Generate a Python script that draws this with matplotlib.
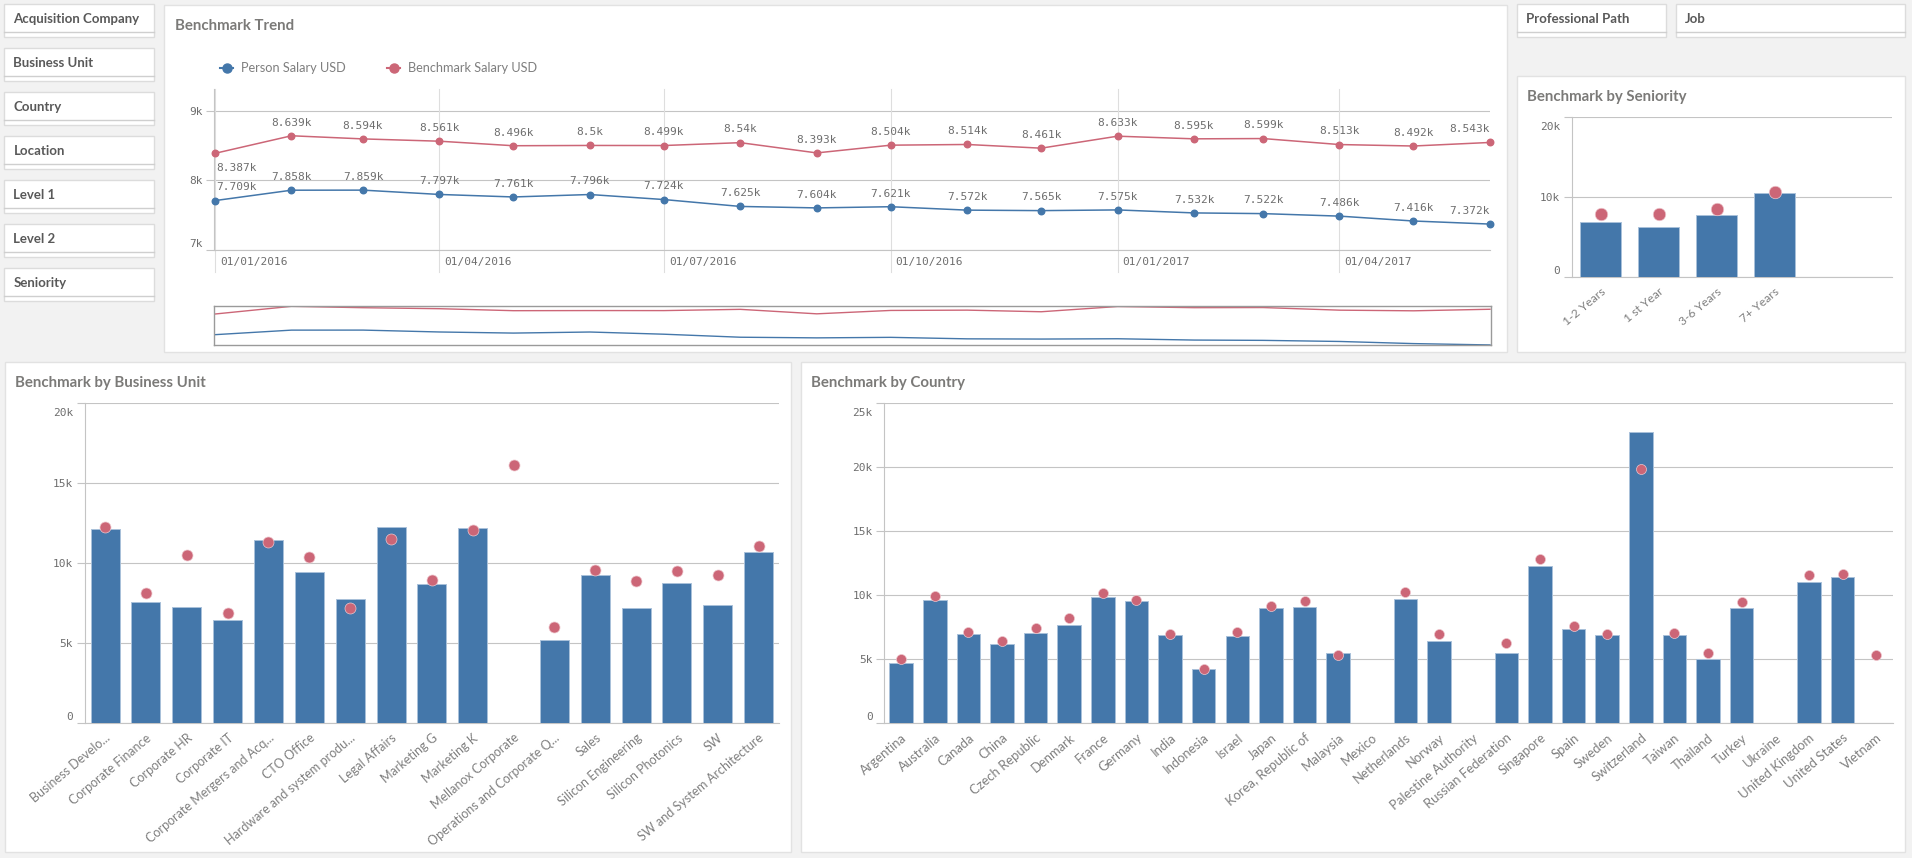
import matplotlib
matplotlib.use('Agg')
import matplotlib.pyplot as plt
from matplotlib.patches import Rectangle
from matplotlib.transforms import ScaledTranslation
import numpy as np
import pandas as pd

W, H = 1912, 858

months = ['2016-01-01', '2016-02-01', '2016-03-01', '2016-04-01', '2016-05-01', '2016-06-01',
          '2016-07-01', '2016-08-01', '2016-09-01', '2016-10-01', '2016-11-01', '2016-12-01',
          '2017-01-01', '2017-02-01', '2017-03-01', '2017-04-01', '2017-05-01', '2017-06-01']
person_trend = [7.709, 7.858, 7.859, 7.797, 7.761, 7.796, 7.724, 7.625, 7.604,
                7.621, 7.572, 7.565, 7.575, 7.532, 7.522, 7.486, 7.416, 7.372]
bench_trend = [8.387, 8.639, 8.594, 8.561, 8.496, 8.5, 8.499, 8.54, 8.393,
               8.504, 8.514, 8.461, 8.633, 8.595, 8.599, 8.513, 8.492, 8.543]
trend_labels_person = ['7.709k', '7.858k', '7.859k', '7.797k', '7.761k', '7.796k', '7.724k', '7.625k', '7.604k',
                       '7.621k', '7.572k', '7.565k', '7.575k', '7.532k', '7.522k', '7.486k', '7.416k', '7.372k']
trend_labels_bench = ['8.387k', '8.639k', '8.594k', '8.561k', '8.496k', '8.5k', '8.499k', '8.54k', '8.393k',
                      '8.504k', '8.514k', '8.461k', '8.633k', '8.595k', '8.599k', '8.513k', '8.492k', '8.543k']
date_ticks = ['2016-01-01', '2016-04-01', '2016-07-01', '2016-10-01', '2017-01-01', '2017-04-01']
date_tick_labels = ['01/01/2016', '01/04/2016', '01/07/2016', '01/10/2016', '01/01/2017', '01/04/2017']

seniority = ['1-2 Years', '1 st Year', '3-6 Years', '7+ Years']
seniority_person = [6900, 6290, 7750, 10580]
seniority_bench = [7910, 7910, 8540, 10660]

units = ['Business Develo...', 'Corporate Finance', 'Corporate HR', 'Corporate IT',
         'Corporate Mergers and Acq...', 'CTO Office', 'Hardware and system produ...',
         'Legal Affairs', 'Marketing G', 'Marketing K', 'Mellanox Corporate',
         'Operations and Corporate Q...', 'Sales', 'Silicon Engineering',
         'Silicon Photonics', 'SW', 'SW and System Architecture']
unit_person = [12125, 7560, 7290, 6440, 11440, 9440, 7790, 12250, 8690, 12190, np.nan,
               5190, 9290, 7190, 8770, 7420, 10690]
unit_bench = [12270, 8150, 10520, 6900, 11330, 10400, 7210, 11520, 8960, 12080, 16150,
              6040, 9580, 8900, 9540, 9270, 11080]

countries = ['Argentina', 'Australia', 'Canada', 'China', 'Czech Republic', 'Denmark', 'France',
             'Germany', 'India', 'Indonesia', 'Israel', 'Japan', 'Korea, Republic of', 'Malaysia',
             'Mexico', 'Netherlands', 'Norway', 'Palestine Authority', 'Russian Federation',
             'Singapore', 'Spain', 'Sweden', 'Switzerland', 'Taiwan', 'Thailand', 'Turkey',
             'Ukraine', 'United Kingdom', 'United States', 'Vietnam']
country_person = [4710, 9640, 6980, 6170, 7080, 7660, 9870, 9560, 6880, 4240, 6820, 9040, 9060, 5470,
                  np.nan, 9690, 6410, np.nan, 5490, 12320, 7370, 6880, 22790, 6930, 5050, 8980,
                  np.nan, 11020, 11430, np.nan]
country_bench = [5030, 9950, 7140, 6430, 7450, 8260, 10180, 9640, 6980, 4240, 7140, 9170, 9560, 5340,
                 np.nan, 10260, 6980, np.nan, 6280, 12840, 7600, 6980, 19870, 7060, 5490, 9480,
                 np.nan, 11590, 11670, 5340]

filters_left = ['Acquisition Company', 'Business Unit', 'Country', 'Location', 'Level 1', 'Level 2', 'Seniority']

BLUE = '#4477aa'
RED = '#cc6677'
GRID = '#c4c4c4'
TICK_TXT = '#6e6e6e'
TITLE_TXT = '#7b7a78'
MONO = 'DejaVu Sans Mono'
SANS = 'Lato'


def px_axes(x0, y0, x1, y1):
    # axes from pixel box, y measured from the top
    ax = fig.add_axes([x0 / W, 1 - y1 / H, (x1 - x0) / W, (y1 - y0) / H])
    ax.patch.set_alpha(0)
    return ax


def style_y(ax, ticks, labels):
    ax.set_yticks(ticks)
    ax.set_yticklabels(labels, fontsize=8, family=MONO, color=TICK_TXT)
    ax.tick_params(axis='y', length=5.8, width=0.8, color=GRID, pad=2.5)
    ax.grid(axis='y', color=GRID, lw=0.8)
    ax.set_axisbelow(True)
    for s in ['top', 'right']:
        ax.spines[s].set_visible(False)
    for s in ['left', 'bottom']:
        ax.spines[s].set_color(GRID)
        ax.spines[s].set_linewidth(0.8)
    # end labels sit inside the plot range, the way the dashboard draws them
    ymin, ymax = ax.get_ylim()
    for t, lab in zip(ticks, ax.get_yticklabels()):
        if t == ymin:
            lab.set_transform(lab.get_transform() + ScaledTranslation(0, 7 / 100, fig.dpi_scale_trans))
        if t == ymax:
            lab.set_transform(lab.get_transform() + ScaledTranslation(0, -8.4 / 100, fig.dpi_scale_trans))


def bar_panel(ax, cats, person, bench, ymax, ticks, labels, bar_w, dot_px, nslots, cat_size):
    x = np.arange(len(cats))
    ax.bar(x, person, width=bar_w, color=BLUE, edgecolor='#a9c1da', linewidth=0.7, zorder=3)
    ax.scatter(x, bench, s=(dot_px * 0.72) ** 2, color=RED, edgecolor='#eec6cd', linewidth=0.5, zorder=4, clip_on=False)
    ax.set_xlim(-0.5, nslots - 0.5)
    ax.set_ylim(0, ymax)
    style_y(ax, ticks, labels)
    ax.set_xticks(x)
    ax.set_xticklabels(cats, rotation=40, ha='right', va='top', rotation_mode='anchor',
                       fontsize=cat_size, family=SANS, color='#7f7f7f')
    ax.tick_params(axis='x', length=0, pad=6)


fig = plt.figure(figsize=(W / 100, H / 100), dpi=100, facecolor='#f2f2f2')

# page layer for the panels, filters and titles
bg = fig.add_axes([0, 0, 1, 1])
bg.set_xlim(0, W)
bg.set_ylim(H, 0)
bg.axis('off')


def panel(x0, y0, x1, y1, title, tx, ty):
    bg.add_patch(Rectangle((x0, y0), x1 - x0, y1 - y0, fc='white', ec='#e2e2e2', lw=1))
    bg.text(tx, ty, title, fontsize=10.85, family=SANS, weight='bold', color=TITLE_TXT, va='center')


def filter_box(x0, x1, y0, label):
    bg.add_patch(Rectangle((x0, y0), x1 - x0, 33, fc='white', ec='#dcdcdc', lw=1))
    bg.plot([x0, x1], [y0 + 28, y0 + 28], color='#cfcfcf', lw=1)
    bg.text(x0 + 9, y0 + 14.4, label, fontsize=9.5, family=SANS, weight='bold', color='#595959', va='center')


for i, name in enumerate(filters_left):
    filter_box(4.5, 154.3, 4.3 + 44 * i, name)
filter_box(1517, 1666.3, 4.3, 'Professional Path')
filter_box(1675.7, 1905, 4.3, 'Job')

panel(163.7, 4.7, 1507.5, 352, 'Benchmark Trend', 174.7, 25.7)
panel(1517, 75.7, 1905, 352, 'Benchmark by Seniority', 1527.5, 97)
panel(5, 361.7, 791, 852, 'Benchmark by Business Unit', 15.3, 383)
panel(800.7, 361.7, 1905, 852, 'Benchmark by Country', 811.4, 383)

# legend of the trend chart
for kx, tx, col, name in [(227, 240.8, BLUE, 'Person Salary USD'), (394, 408, RED, 'Benchmark Salary USD')]:
    bg.plot([kx - 6.5, kx + 6.5], [67.7, 67.7], color=col, lw=1.5)
    bg.plot([kx], [67.7], 'o', color=col, ms=6.5)
    bg.text(tx, 67.7, name, fontsize=9.2, family=SANS, color='#7f7f7f', va='center')

# trend
dates = pd.to_datetime(months)
ax = px_axes(214.3, 89, 1490.4, 250)
ax.plot(dates, person_trend, '-o', color=BLUE, lw=1.1, ms=4.7, clip_on=False, zorder=3)
ax.plot(dates, bench_trend, '-o', color=RED, lw=1.1, ms=4.7, clip_on=False, zorder=3)
ax.set_xlim(dates[0] - pd.Timedelta(days=0.3), dates[-1] + pd.Timedelta(days=0.2))
ax.set_ylim(7, 9.31)
style_y(ax, [7, 8, 9], ['7k', '8k', '9k'])
ax.set_xticks([])

for d, lab in zip(pd.to_datetime(date_ticks), date_tick_labels):
    ax.axvline(d, ymin=-0.139, ymax=1, color='#dedede', lw=0.8, clip_on=False, zorder=1)
    ax.annotate(lab, xy=(d, 0), xycoords=('data', 'axes fraction'), xytext=(3.6, -8.5), textcoords='offset points',
                fontsize=8, family=MONO, color=TICK_TXT, ha='left', va='center')

for vals, labs in [(person_trend, trend_labels_person), (bench_trend, trend_labels_bench)]:
    for i, (d, v, lab) in enumerate(zip(dates, vals, labs)):
        ha, dx, dy = 'center', 0, 9.5
        if i == 0:
            ha, dx = 'left', 1
            if lab == '8.387k':
                dy = -10.5
        if i == len(dates) - 1:
            ha, dx = 'right', 0
        ax.annotate(lab, xy=(d, v), xytext=(dx, dy), textcoords='offset points', fontsize=8,
                    family=MONO, color=TICK_TXT, ha=ha, va='center', zorder=5)

# range selector under the trend
mini = px_axes(214.3, 306.3, 1491, 345.3)
mini.plot(dates, person_trend, color=BLUE, lw=1)
mini.plot(dates, bench_trend, color=RED, lw=1)
mini.set_xlim(dates[0] - pd.Timedelta(days=0.3), dates[-1] + pd.Timedelta(days=0.4))
mini.set_ylim(7.36, 8.64)
mini.set_xticks([])
mini.set_yticks([])
for s in mini.spines.values():
    s.set_color('#9a9a9a')
    s.set_linewidth(1)

ax = px_axes(1571.6, 117.3, 1892.4, 277.3)
bar_panel(ax, seniority, seniority_person, seniority_bench, 20000, [0, 10000, 20000], ['0', '10k', '20k'],
          0.7, 12.5, 5.53, 8.7)

ax = px_axes(84.7, 403.3, 779, 723.3)
bar_panel(ax, units, unit_person, unit_bench, 20000, [0, 5000, 10000, 15000, 20000],
          ['0', '5k', '10k', '15k', '20k'], 0.71, 11, 17, 9)

ax = px_axes(884.3, 403.3, 1893, 723.3)
bar_panel(ax, countries, country_person, country_bench, 25000, [0, 5000, 10000, 15000, 20000, 25000],
          ['0', '5k', '10k', '15k', '20k', '25k'], 0.7, 10, 30, 9.4)

fig.savefig('out.png', dpi=100, facecolor=fig.get_facecolor())
